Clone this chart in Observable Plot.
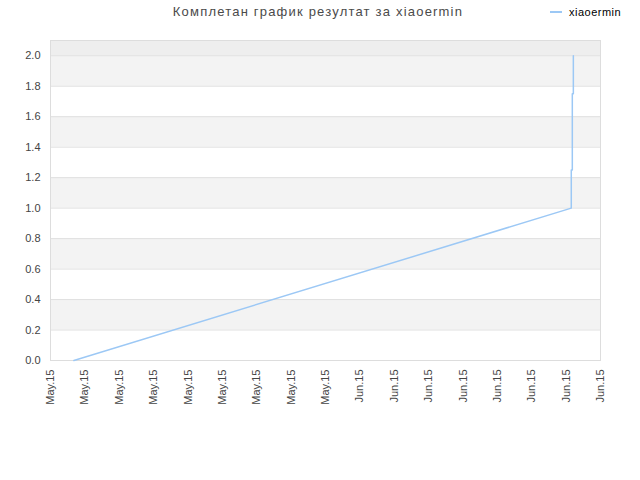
<!DOCTYPE html>
<html>
<head>
<meta charset="utf-8">
<script src="https://cdn.jsdelivr.net/npm/d3@7"></script>
<script src="https://cdn.jsdelivr.net/npm/@observablehq/plot@0.6"></script>
<style>
  body { margin: 0; background: #fff; }
  #wrap { position: relative; width: 640px; height: 480px; font-family: "Liberation Sans", Arial, sans-serif; }
  #title { position: absolute; left: 0; width: 636px; top: 4px; text-align: center; font-size: 13px; color: #4a4a4a; letter-spacing: 1.2px; }
  #legend { position: absolute; left: 550px; top: 6px; font-size: 11px; color: #000; display: flex; align-items: center; letter-spacing: 0.5px; }
  #legend .sw { width: 12px; height: 2px; background: #9cc8f5; margin-right: 7px; }
  svg { position: absolute; left: 0; top: 0; }
</style>
</head>
<body>
<div id="wrap">
  <div id="title">Комплетан график резултат за xiaoermin</div>
  <div id="legend"><span class="sw"></span><span>xiaoermin</span></div>
</div>
<script>
const seriesName = "xiaoermin";
const tickLabels = ["May.15","May.15","May.15","May.15","May.15","May.15","May.15","May.15","May.15",
                    "Jun.15","Jun.15","Jun.15","Jun.15","Jun.15","Jun.15","Jun.15","Jun.15"];
const xValues = [0.68, 15.15, 15.15, 15.18, 15.18, 15.21, 15.21];
const yValues = [0.0, 1.0, 1.25, 1.25, 1.75, 1.75, 2.0];
const yTicks = [0, 0.2, 0.4, 0.6, 0.8, 1.0, 1.2, 1.4, 1.6, 1.8, 2.0];
const bandStarts = [0.2, 0.6, 1.0, 1.4, 1.8];

const points = xValues.map((x, i) => ({x, y: yValues[i]}));
const bands = bandStarts.map(b => ({y1: b, y2: b + 0.2}));

const chart = Plot.plot({
  width: 640,
  height: 480,
  marginLeft: 50,
  marginRight: 40,
  marginTop: 40,
  marginBottom: 120,
  style: {fontFamily: "Liberation Sans, Arial, sans-serif", fontSize: "11px", color: "#444", background: "transparent"},
  x: {domain: [0, 16], ticks: d3.range(0, 17), tickFormat: i => tickLabels[i], tickSize: 0, tickPadding: 8, tickRotate: -90, label: null},
  y: {domain: [0, 2.1], ticks: yTicks, tickFormat: d3.format(".1f"), tickSize: 0, tickPadding: 10, label: null},
  marks: [
    Plot.rectY([{y1: 2.0, y2: 2.1}], {x1: 0, x2: 16, y1: "y1", y2: "y2", fill: "#eeeeee"}),
    Plot.rectY(bands, {x1: 0, x2: 16, y1: "y1", y2: "y2", fill: "#f3f3f3"}),
    Plot.ruleY(yTicks, {stroke: "#e0e0e0", strokeWidth: 1}),
    Plot.frame({stroke: "#dddddd", strokeWidth: 1}),
    Plot.line(points, {x: "x", y: "y", stroke: "#9cc8f5", strokeWidth: 1.5}),
    Plot.axisX({ticks: d3.range(0, 17), tickFormat: i => tickLabels[i], tickSize: 0, tickPadding: 9, tickRotate: -90, fill: "#444", label: null}),
    Plot.axisY({ticks: yTicks, tickFormat: d3.format(".1f"), tickSize: 0, tickPadding: 10, fill: "#444", label: null})
  ]
});
document.getElementById("wrap").prepend(chart);
</script>
</body>
</html>
